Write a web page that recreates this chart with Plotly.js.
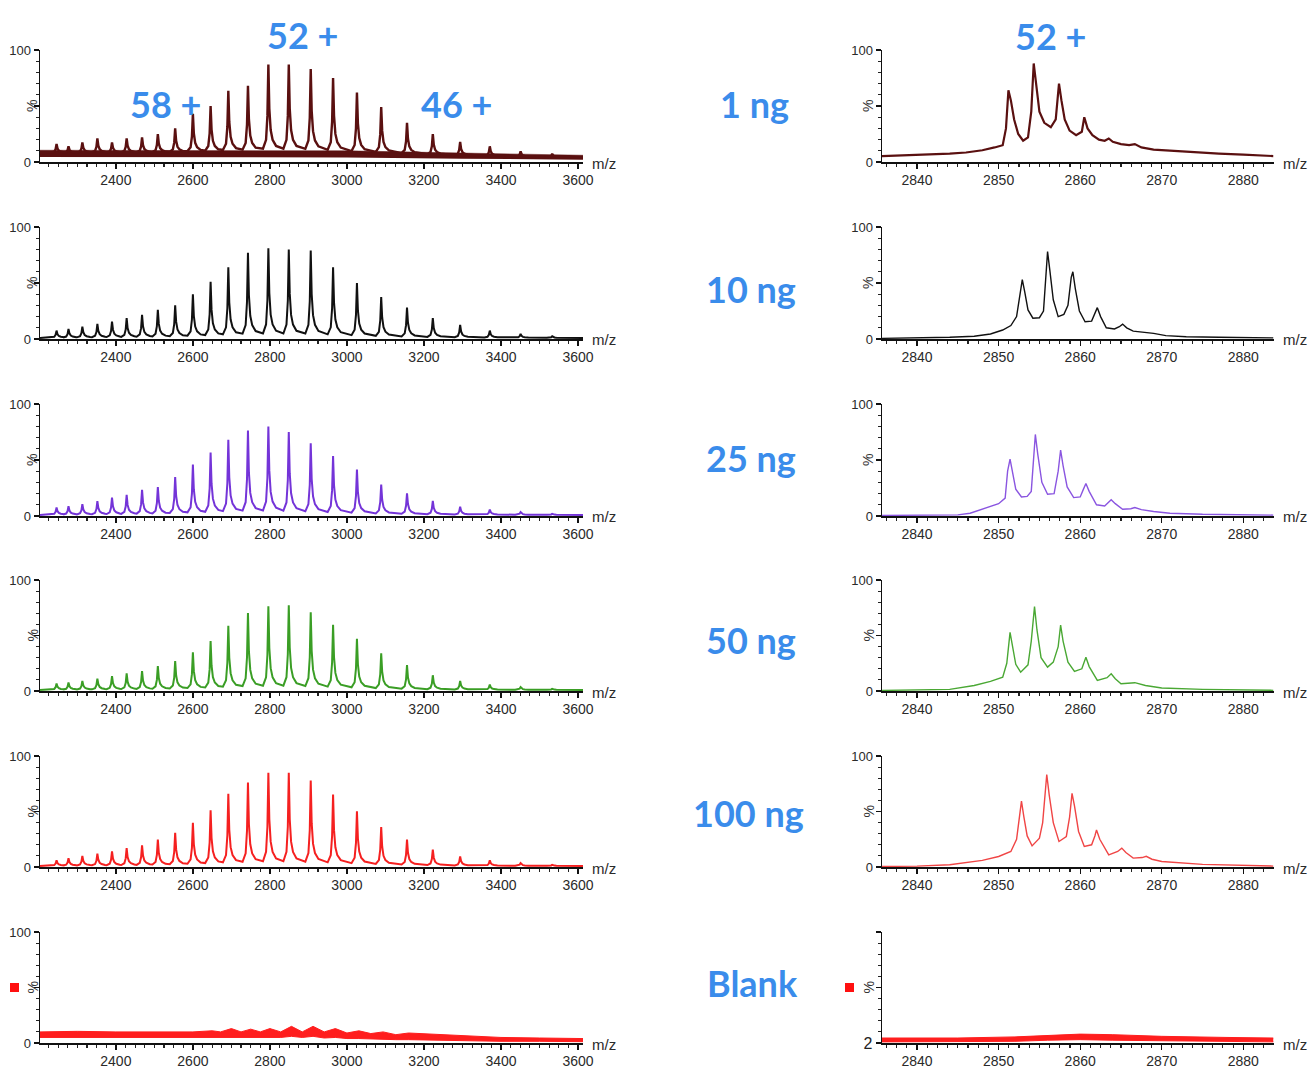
<!DOCTYPE html>
<html><head><meta charset="utf-8">
<script src="https://cdn.plot.ly/plotly-3.0.1.min.js"></script>
<style>html,body{margin:0;padding:0;background:#fff}#chart{width:1309px;height:1084px}</style>
</head><body><div id="chart"></div>
<script>
// ---------------- DATA ----------------
const conditions = ['1 ng', '10 ng', '25 ng', '50 ng', '100 ng', 'Blank'];
const chargeLabels = ['58 +', '52 +', '46 +'];

// charge-state envelope, peak apex m/z (left column)
const peakMz = [2246, 2277, 2313, 2352, 2390, 2428, 2468, 2509, 2554, 2600, 2646, 2692, 2743,
                2796, 2849, 2906, 2964, 3026, 3089, 3156, 3223, 3294, 3371, 3451, 3533];
// apex heights (%)
const peaks1ng   = [16, 14, 17.5, 21, 17.5, 21, 22, 25, 30, 43, 50, 63.5, 68, 87, 87, 83, 75, 62, 49, 35, 25, 18, 14, 9.5, 7.4];
const peaks10ng  = [7.5, 9, 11, 13.5, 15.6, 18.6, 21.6, 26, 30, 40, 51, 64, 77, 81, 80, 79, 64, 50, 37.5, 28, 18.6, 12.6, 7.5, 4.5, 2.4];
const peaks25ng  = [7.6, 8.8, 10.6, 13.3, 16.4, 18.8, 23.3, 25.8, 34.8, 46, 56.7, 68, 76.4, 80, 75, 65, 53.6, 41.5, 28, 20.3, 13.6, 8.2, 5.8, 3.6, 2];
const peaks50ng  = [6.7, 7.6, 9, 11.2, 13.3, 15.8, 17.9, 22.4, 27, 34.8, 45, 58.8, 70.3, 76.4, 77.3, 71, 59.7, 47, 34, 23.3, 14.2, 9, 5.8, 3.6, 2];
const peaks100ng = [6, 8, 10, 12, 14, 17, 19.6, 24.7, 30.7, 39.8, 51.2, 66, 76, 85, 85, 78, 65.4, 50.3, 36, 24.7, 15.7, 9.6, 6, 3.6, 2];
// baseline under each peak (%)
const base1ng   = [8, 8, 8, 8, 8, 8, 8, 8, 8, 8, 8, 8, 8, 8, 8, 8, 7.5, 7, 7, 6.5, 6, 5.5, 5, 4.5, 4];
const baseOther = 1;
// 1 ng noise band
const band1Mz    = [2203, 2600, 3000, 3300, 3613];
const band1Lower = [4.5, 4.5, 4, 3, 2];
const band1Upper = [10.5, 10.5, 10, 8, 6];
// blank, left column band
const blankMz    = [2203, 2300, 2400, 2500, 2600, 2650, 2672, 2700, 2725, 2750, 2775, 2800, 2828, 2856, 2884, 2912, 2941, 2970, 3000, 3031, 3062, 3094, 3127, 3160, 3228, 3300, 3400, 3500, 3613];
const blankUpper = [10, 10.5, 10, 10, 10, 11, 10, 13, 10, 12.5, 10, 13, 10, 15, 10, 15, 10, 13, 9, 11, 8.5, 10, 7.5, 9, 8, 6.5, 5, 4.5, 4];
const blankLower = [5, 5, 5, 5, 5, 5, 5, 5.5, 5, 5.5, 5, 5.5, 5, 6, 5, 6, 4.5, 5, 4, 4, 3.5, 3.5, 3, 3, 2.5, 2, 1.5, 1.5, 1.2];

// 52+ zoom (right column) profiles
const z1ngMz = [2835.7, 2838, 2841, 2844, 2846, 2848, 2849.5, 2850.5, 2850.9, 2851.2, 2851.5, 2851.9, 2852.4, 2853, 2853.6, 2854.0, 2854.3, 2854.6, 2855.0, 2855.6, 2856.4, 2857.0, 2857.4, 2857.7, 2858.1, 2858.7, 2859.5, 2860.2, 2860.5, 2860.9, 2861.5, 2862.3, 2863.0, 2863.5, 2864.0, 2865, 2866, 2866.7, 2867.5, 2869, 2871, 2874, 2877, 2880, 2883.7];
const z1ngY  = [5.3, 5.8, 6.3, 7.4, 8.5, 10.5, 13, 15, 30, 64, 55, 38, 25, 19, 22, 45, 88, 70, 45, 35, 31, 38, 70, 55, 38, 28, 24, 27, 40, 30, 24, 20, 19, 21, 18, 16, 15, 16, 13, 11, 10, 8.5, 7.4, 6.5, 5.3];
const z10ngMz = [2835.7, 2840, 2844, 2847, 2849, 2850.5, 2851.5, 2852.2, 2852.6, 2852.9, 2853.2, 2853.6, 2854.2, 2855, 2855.5, 2855.8, 2856.0, 2856.3, 2856.7, 2857.3, 2858.0, 2858.5, 2858.9, 2859.1, 2859.4, 2859.9, 2860.6, 2861.4, 2861.8, 2862.1, 2862.5, 2863.2, 2864.2, 2864.8, 2865.2, 2865.7, 2866.5, 2868, 2869, 2870.5, 2873, 2877, 2883.7];
const z10ngY  = [0.6, 1, 1.5, 2.5, 4.5, 8, 12, 20, 40, 53, 42, 26, 18.6, 19, 25, 55, 78, 60, 35, 20, 22, 30, 55, 60, 45, 25, 15.4, 16, 22, 28, 20, 10, 9, 11, 13.3, 10, 7, 6, 5, 3, 2, 1.5, 1];
const z25ngMz = [2835.7, 2840, 2845, 2846.5, 2848.5, 2850, 2850.8, 2851.1, 2851.4, 2851.7, 2852.1, 2852.8, 2853.5, 2854.0, 2854.3, 2854.5, 2854.8, 2855.3, 2856.0, 2856.8, 2857.3, 2857.6, 2857.9, 2858.4, 2859.2, 2860.0, 2860.4, 2860.7, 2861.1, 2862.0, 2863.0, 2863.5, 2863.8, 2864.3, 2865.2, 2866.2, 2866.7, 2867.5, 2869, 2871, 2875, 2883.7];
const z25ngY  = [0.5, 0.7, 1, 2.5, 7.5, 11, 16, 40, 50.7, 38, 24, 17, 17.5, 22, 55, 72.8, 55, 30, 19.4, 20, 40, 58.8, 45, 26, 16.4, 17, 24, 29, 22, 10, 9, 12, 14.6, 11, 6, 6.5, 7.5, 5.7, 4, 2.5, 1.5, 0.8];
const z50ngMz = [2835.7, 2840, 2844, 2847, 2849, 2850.5, 2851.0, 2851.4, 2851.7, 2852.1, 2852.7, 2853.6, 2854.0, 2854.4, 2854.7, 2855.2, 2856.0, 2856.7, 2857.3, 2857.6, 2857.9, 2858.5, 2859.3, 2860.2, 2860.7, 2861.1, 2862.1, 2863.3, 2863.8, 2864.3, 2865, 2866.7, 2868, 2870, 2875, 2883.7];
const z50ngY  = [0.5, 0.8, 1.5, 5, 8.7, 12.5, 25, 52.8, 40, 24, 17, 23.6, 45, 76, 55, 30, 21.5, 26, 40, 59.4, 45, 26, 17.6, 20, 30.4, 22, 9.5, 12, 15.5, 11, 6.6, 7.5, 5, 2.7, 1.5, 0.6];
const z100ngMz = [2835.7, 2840, 2844, 2848, 2850, 2851.5, 2852.2, 2852.5, 2852.8, 2853.1, 2853.5, 2854.1, 2855.0, 2855.4, 2855.7, 2855.9, 2856.2, 2856.7, 2857.4, 2858.3, 2858.7, 2859.0, 2859.3, 2859.8, 2860.5, 2861.4, 2861.8, 2862.0, 2862.4, 2863.5, 2864.6, 2865.1, 2865.6, 2866.5, 2867.6, 2868.1, 2868.8, 2870, 2875, 2880, 2883.7];
const z100ngY  = [0.5, 0.8, 2, 6, 9.5, 14, 25, 45, 59.4, 45, 28, 19, 26, 40, 70, 83.3, 65, 40, 23, 27.5, 45, 66.3, 55, 32, 18.5, 20, 28, 33.4, 25, 11, 14, 17, 13, 8, 8.5, 9.6, 7, 5, 2.4, 1.5, 0.8];
const zBlankMz    = [2835.7, 2845, 2852, 2856, 2860, 2864, 2870, 2878, 2883.7];
const zBlankLower = [1, 1, 1.5, 2.5, 3, 2.5, 2, 1.5, 1];
const zBlankUpper = [4.5, 4.5, 5.5, 7, 8, 7.5, 6, 5, 4.5];

const leftTicks  = [2400, 2600, 2800, 3000, 3200, 3400, 3600];
const rightTicks = [2840, 2850, 2860, 2870, 2880];

// ---------------- STYLE ----------------
const W = 1309, H = 1084;
const colors = ['#5a1010', '#111111', '#7434d8', '#3a9e25', '#f52020', '#ff1e1e'];
const rightColors = ['#5a1010', '#111111', '#8a55e0', '#4aa834', '#f04545', '#ff1e1e'];
const blue = '#3a8ceb';
const rows = [[50, 162], [227, 339], [404, 516], [580, 691], [756, 867], [932, 1043]];
const leftPx = [40, 583], rightPx = [882, 1273.5];
const leftRange = [2203, 3613], rightRange = [2835.7, 2883.7];
// peak drawing template (shape only)
const PEAK_DX = [-14, -6, -2.5, 0, 2.5, 6, 11, 20];
const PEAK_F  = [0.05, 0.15, 0.42, 1, 0.5, 0.26, 0.15, 0.08];

const px = v => v / W;
const py = v => 1 - v / H;

function buildEnvelope(heights, base) {
  const xs = [leftRange[0]], ys = [Array.isArray(base) ? base[0] : base];
  heights.forEach((h, i) => {
    const b = Array.isArray(base) ? base[i] : base;
    PEAK_DX.forEach((dx, k) => { xs.push(peakMz[i] + dx); ys.push(b + PEAK_F[k] * (h - b)); });
  });
  xs.push(leftRange[1]); ys.push(Array.isArray(base) ? base[base.length - 1] : base);
  return {xs, ys};
}

const envHeights = [peaks1ng, peaks10ng, peaks25ng, peaks50ng, peaks100ng];
const envBases = [base1ng, baseOther, baseOther, baseOther, baseOther];
const zoomSets = [[z1ngMz, z1ngY], [z10ngMz, z10ngY], [z25ngMz, z25ngY], [z50ngMz, z50ngY], [z100ngMz, z100ngY]];

const data = [];
const layout = {
  width: W, height: H, margin: {l: 0, r: 0, t: 0, b: 0},
  paper_bgcolor: '#fff', plot_bgcolor: 'rgba(0,0,0,0)', showlegend: false,
  annotations: [], shapes: []
};
const FAM = 'Liberation Sans, Arial, sans-serif';
const tickFont = {family: FAM, size: 14, color: '#2a2a2a'};

function ax(idx) { return idx === 1 ? '' : String(idx); }

for (let r = 0; r < 6; r++) {
  for (let side = 0; side < 2; side++) {
    const idx = r * 2 + side + 1;
    const xs = 'x' + ax(idx), ys = 'y' + ax(idx);
    const dom = side === 0 ? leftPx : rightPx;
    layout['xaxis' + ax(idx)] = {
      domain: [px(dom[0]), px(dom[1])], anchor: ys,
      range: side === 0 ? leftRange : rightRange,
      tickvals: side === 0 ? leftTicks : rightTicks,
      ticks: 'outside', ticklen: 5, tickwidth: 1.3, tickcolor: '#111',
      minor: {ticks: 'outside', ticklen: 3, tickwidth: 1.1, tickcolor: '#222', dtick: side === 0 ? 25 : 1.25, tick0: side === 0 ? 2400 : 2840},
      showline: true, linecolor: '#111', linewidth: 1.5,
      showgrid: false, zeroline: false, tickfont: tickFont, fixedrange: true
    };
    const isBlankRight = (r === 5 && side === 1);
    layout['yaxis' + ax(idx)] = {
      domain: [py(rows[r][1]), py(rows[r][0])], anchor: xs,
      range: [0, 100],
      tickvals: [0, 50, 100], ticktext: isBlankRight ? ['2', '', ''] : ['0', '', '100'],
      ticks: 'outside', ticklen: 5, tickwidth: 1.3, tickcolor: '#111',
      minor: {ticks: 'outside', ticklen: 3, tickwidth: 1.1, tickcolor: '#222', dtick: 10},
      showline: true, linecolor: '#111', linewidth: 1.5,
      showgrid: false, zeroline: false,
      tickfont: isBlankRight ? {family: FAM, size: 16, color: '#222'} : {family: FAM, size: 13, color: '#2a2a2a'},
      fixedrange: true
    };
    // "%" and "m/z"
    layout.annotations.push({
      xref: 'paper', yref: 'paper', x: px(dom[0] - (side === 0 ? 8 : 14)), y: py((rows[r][0] + rows[r][1]) / 2),
      text: '%', showarrow: false, textangle: -90, xanchor: 'center', yanchor: 'middle',
      font: {family: FAM, size: 14, color: '#333'}
    });
    layout.annotations.push({
      xref: 'paper', yref: 'paper', x: px(dom[1] + 7), y: py(rows[r][1] + 1),
      text: 'm/z', showarrow: false, xanchor: 'left', yanchor: 'middle',
      font: {family: FAM, size: 15, color: '#2a2a2a'}
    });

    if (r < 5 && side === 0) {
      if (r === 0) {
        data.push({type: 'scatter', mode: 'lines', x: band1Mz, y: band1Lower, xaxis: xs, yaxis: ys,
          line: {width: 0, color: colors[0]}, hoverinfo: 'skip'});
        data.push({type: 'scatter', mode: 'lines', x: band1Mz, y: band1Upper, xaxis: xs, yaxis: ys,
          fill: 'tonexty', fillcolor: colors[0], line: {width: 0.5, color: colors[0]}, hoverinfo: 'skip'});
      }
      const e = buildEnvelope(envHeights[r], envBases[r]);
      data.push({type: 'scatter', mode: 'lines', x: e.xs, y: e.ys, xaxis: xs, yaxis: ys,
        line: {width: r === 0 ? 2.4 : 2, color: colors[r]}, hoverinfo: 'skip'});
    } else if (r < 5 && side === 1) {
      data.push({type: 'scatter', mode: 'lines', x: zoomSets[r][0], y: zoomSets[r][1], xaxis: xs, yaxis: ys,
        line: {width: r === 0 ? 2.2 : 1.4, color: rightColors[r]}, hoverinfo: 'skip'});
    } else {
      const bx = side === 0 ? blankMz : zBlankMz;
      const lo = side === 0 ? blankLower : zBlankLower;
      const up = side === 0 ? blankUpper : zBlankUpper;
      data.push({type: 'scatter', mode: 'lines', x: bx, y: lo, xaxis: xs, yaxis: ys,
        line: {width: 1, color: colors[5]}, hoverinfo: 'skip'});
      data.push({type: 'scatter', mode: 'lines', x: bx, y: up, xaxis: xs, yaxis: ys,
        fill: 'tonexty', fillcolor: colors[5], line: {width: 1, color: colors[5]}, hoverinfo: 'skip'});
      // red square marker left of the axis
      const sx = side === 0 ? 10 : 845;
      layout.shapes.push({type: 'rect', xref: 'paper', yref: 'paper',
        x0: px(sx), x1: px(sx + 9), y0: py(992), y1: py(983), fillcolor: '#ff1010', line: {width: 0}});
    }
  }
}

// blue labels
const labelFont = {family: 'Lato, Open Sans, sans-serif', size: 36, color: blue, weight: 700};
const condY = [104, 289, 458, 640, 813, 983];
const condX = [754, 751, 751, 751, 748, 752];
conditions.forEach((c, i) => {
  layout.annotations.push({xref: 'paper', yref: 'paper', x: px(condX[i]), y: py(condY[i]), text: '<b>' + c + '</b>',
    showarrow: false, xanchor: 'center', yanchor: 'middle', font: labelFont});
});
const chargePos = [[165, 104], [302, 35], [457, 104]];
chargeLabels.forEach((c, i) => {
  layout.annotations.push({xref: 'paper', yref: 'paper', x: px(chargePos[i][0]), y: py(chargePos[i][1]), text: '<b>' + c + '</b>',
    showarrow: false, xanchor: 'center', yanchor: 'middle', font: labelFont});
});
layout.annotations.push({xref: 'paper', yref: 'paper', x: px(1050), y: py(36), text: '<b>' + chargeLabels[1] + '</b>',
  showarrow: false, xanchor: 'center', yanchor: 'middle', font: labelFont});

Plotly.newPlot('chart', data, layout, {displayModeBar: false, staticPlot: true});
</script>
</body></html>
